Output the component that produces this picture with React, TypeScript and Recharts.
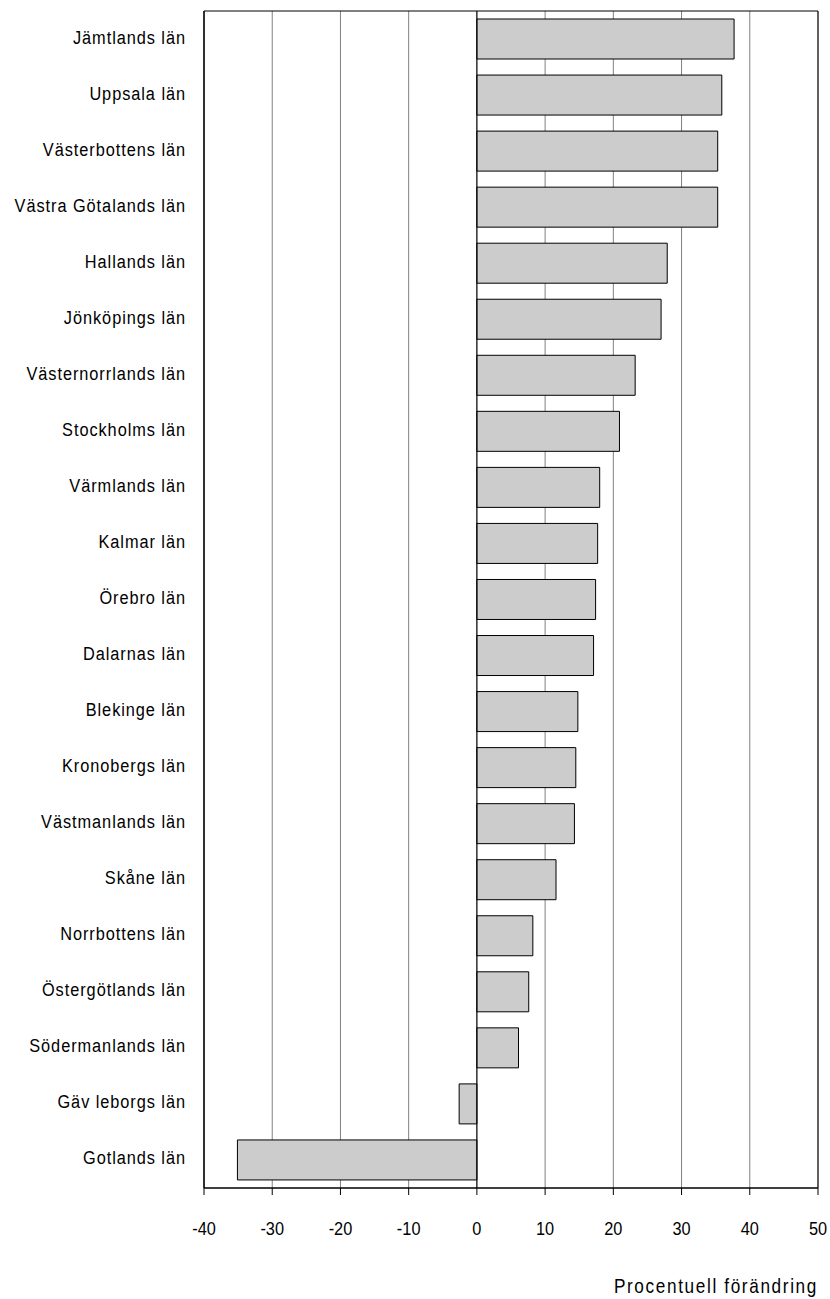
import { BarChart, Bar, XAxis, YAxis, CartesianGrid, ReferenceLine, ReferenceArea } from 'recharts';

const COUNTIES = [
  'Jämtlands län', 'Uppsala län', 'Västerbottens län', 'Västra Götalands län', 'Hallands län',
  'Jönköpings län', 'Västernorrlands län', 'Stockholms län', 'Värmlands län', 'Kalmar län',
  'Örebro län', 'Dalarnas län', 'Blekinge län', 'Kronobergs län', 'Västmanlands län',
  'Skåne län', 'Norrbottens län', 'Östergötlands län', 'Södermanlands län', 'Gäv leborgs län',
  'Gotlands län',
];
const CHANGE = [
  37.7, 35.9, 35.3, 35.3, 27.9,
  27.0, 23.2, 20.9, 18.0, 17.7,
  17.4, 17.1, 14.8, 14.5, 14.3,
  11.6, 8.2, 7.6, 6.1, -2.6,
  -35.1,
];
const X_TICKS = [-40, -30, -20, -10, 0, 10, 20, 30, 40, 50];
const AXIS_TITLE = 'Procentuell förändring';

// narrow look: Arial-like font squeezed horizontally
const FONT = '"Liberation Sans", Arial, sans-serif';
const SQUEEZE = 0.86;

const data = COUNTIES.map((name, i) => ({ name, v: CHANGE[i] }));

function CountyTick({ x, y, payload }: any) {
  return (
    <text
      transform={`translate(${x},${y + 4.5}) scale(${SQUEEZE},1)`}
      textAnchor="end"
      fontFamily={FONT}
      fontSize={19}
      letterSpacing={1.1}
      fill="#000"
    >
      {payload.value}
    </text>
  );
}

function ValueTick({ x, y, payload }: any) {
  return (
    <text
      transform={`translate(${x},${y + 13.5}) scale(${SQUEEZE},1)`}
      textAnchor="middle"
      fontFamily={FONT}
      fontSize={19}
      fill="#000"
    >
      {payload.value}
    </text>
  );
}

function AxisTitle({ viewBox }: any) {
  if (!viewBox) return null;
  const x = viewBox.x + viewBox.width;
  const y = viewBox.y + 105;
  return (
    <text
      transform={`translate(${x},${y}) scale(${SQUEEZE},1)`}
      textAnchor="end"
      fontFamily={FONT}
      fontSize={20}
      letterSpacing={1.9}
      fill="#000"
    >
      {AXIS_TITLE}
    </text>
  );
}

export default function App() {
  return (
    <div style={{ position: 'absolute', left: 0, top: 0 }}>
      <BarChart
        width={830}
        height={1299}
        data={data}
        layout="vertical"
        margin={{ top: 11, right: 12, left: 0, bottom: 0 }}
        barSize={40}
      >
        <CartesianGrid horizontal={false} stroke="#808080" />
        <XAxis
          type="number"
          domain={[-40, 50]}
          ticks={X_TICKS}
          interval={0}
          height={111}
          tickSize={7}
          tickMargin={26}
          stroke="#000"
          tick={<ValueTick />}
          label={<AxisTitle />}
        />
        <YAxis
          type="category"
          dataKey="name"
          width={204}
          tickSize={0}
          tickMargin={18}
          interval={0}
          stroke="#000"
          tick={<CountyTick />}
        />
        <ReferenceArea x1={-40} x2={50} fill="none" stroke="#000" strokeWidth={1} ifOverflow="visible" />
        <Bar dataKey="v" fill="#cccccc" stroke="#000" strokeWidth={1} isAnimationActive={false} />
        <ReferenceLine x={0} stroke="#000" strokeWidth={1} />
      </BarChart>
    </div>
  );
}
